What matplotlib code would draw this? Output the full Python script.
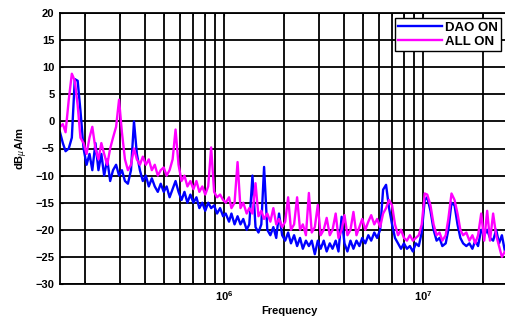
import matplotlib
matplotlib.use("Agg")
import matplotlib.pyplot as plt
from matplotlib.ticker import LogLocator, NullFormatter, FixedLocator

# frequency points (MHz)
freq_mhz = [
    0.150, 0.155, 0.160, 0.166, 0.172, 0.178, 0.184, 0.190, 0.197, 0.204,
    0.211, 0.218, 0.226, 0.234, 0.242, 0.250, 0.259, 0.268, 0.277, 0.287,
    0.297, 0.307, 0.318, 0.329, 0.341, 0.353, 0.365, 0.378, 0.391, 0.405,
    0.419, 0.434, 0.449, 0.465, 0.481, 0.498, 0.515, 0.533, 0.552, 0.571,
    0.591, 0.612, 0.633, 0.655, 0.678, 0.702, 0.727, 0.752, 0.778, 0.805,
    0.833, 0.862, 0.892, 0.923, 0.956, 0.990,
    1.02, 1.06, 1.09, 1.13, 1.17, 1.21, 1.25, 1.30, 1.34, 1.39,
    1.44, 1.49, 1.54, 1.59, 1.65, 1.71, 1.77, 1.83, 1.89, 1.96,
    2.03, 2.10, 2.17, 2.25, 2.33, 2.41, 2.49, 2.58, 2.67, 2.76,
    2.86, 2.96, 3.06, 3.17, 3.28, 3.40, 3.51, 3.64, 3.76, 3.90,
    4.03, 4.17, 4.32, 4.47, 4.63, 4.79, 4.95, 5.13, 5.31, 5.49,
    5.69, 5.88, 6.09, 6.30, 6.52, 6.75, 6.99, 7.23, 7.49, 7.75,
    8.02, 8.30, 8.59, 8.89, 9.20, 9.52, 9.85,
    10.2, 10.5, 10.9, 11.3, 11.7, 12.1, 12.5, 13.0, 13.4, 13.9,
    14.4, 14.9, 15.4, 15.9, 16.5, 17.1, 17.7, 18.3, 18.9, 19.6,
    20.3, 21.0, 21.7, 22.5, 23.3, 24.1, 24.9, 25.8, 26.7,
]

# DAO ON (blue)
dao_on = [
    -2, -4, -5.5, -5, -3, 7.8, 7.5, 2, -5, -8,
    -6, -9, -4, -9, -6, -10, -7, -11, -9, -8,
    -10, -9, -11, -11.5, -9, 0, -6, -9, -11, -10,
    -12, -10.5, -12, -13, -11.5, -13, -12, -14, -12.5, -11,
    -13, -14.5, -13, -15, -13.5, -15, -14, -16, -15, -16.5,
    -15, -16, -15.5, -17, -16, -17.5,
    -17, -18.5, -17, -19, -17.5, -19, -18, -20, -19, -10,
    -19.5, -20.5, -19, -8.4, -20, -21, -19.5, -21.5, -17, -21,
    -22, -20.5, -22.5, -21, -23, -21.5, -23.5, -22, -23, -22,
    -24.5, -22, -23.5, -22, -24, -22.5, -23.5, -22, -24, -17.6,
    -22.5, -24, -22, -23.5, -22, -23, -21.5, -22.5, -21, -22,
    -20.5, -21.5, -20, -12.6, -11.7, -16, -19, -21.5, -22.5, -23.5,
    -22.5, -23.5, -23, -24, -22.5, -23, -20.5,
    -14.5, -14, -16.5, -20, -22, -21.5, -23, -22.5, -20, -15,
    -15.5, -19, -21.5, -22.5, -23, -22.5, -23.5, -22, -23, -20,
    -21, -20, -21.5, -22, -20, -22.5, -21, -24, -25,
]

# ALL ON (magenta)
all_on = [
    -1, -0.5, -2, 4, 8.8, 7.5, 3, -3, -4, -6,
    -3, -1, -5, -7, -4, -6, -8, -5, -3, -1,
    4, -2, -7, -9, -8, -5, -7, -8, -6.5, -8,
    -7, -9, -8, -10, -9, -8.5, -10, -9, -7, -1.5,
    -8, -11, -10, -12, -11, -12.5, -11, -13, -12, -13.5,
    -12, -4.8, -13, -14, -13.5, -14.5,
    -15, -14, -16, -15, -7.5, -16, -15, -17, -16, -17,
    -11.4, -17.5, -16.5, -18, -17, -18.5, -16, -19, -18, -19.5,
    -18.5, -14, -20, -19, -14, -20, -19, -21, -13.2, -20.5,
    -19.5, -15.4, -21, -20, -17.8, -21, -20, -17, -21.5, -20,
    -17.3, -21, -20, -16.7, -21, -19.5, -18, -20, -18.5, -17.3,
    -19, -18, -19.5, -17, -16, -14.5, -15.5, -19, -21, -20,
    -21.5, -22, -21, -22, -21.5, -21, -19,
    -13.3, -13.5, -15.5, -19, -21, -20.5, -22, -21, -18, -13.3,
    -14.5, -17, -20, -21, -20.5, -22, -21, -22.5, -21, -17,
    -22, -16.5, -22, -17, -21, -23, -25, -24, -25,
]

legend_labels = ["DAO ON", "ALL ON"]

plt.rcParams['font.family'] = ['Liberation Sans', 'DejaVu Sans']

fig = plt.figure(figsize=(5.06, 3.21), dpi=100)
ax = fig.add_axes([60 / 506, 37 / 321, 458 / 506, 271 / 321])

freq_hz = [f * 1e6 for f in freq_mhz]
ax.plot(freq_hz, dao_on, color='#0000ff', lw=1.7, label=legend_labels[0])
ax.plot(freq_hz, all_on, color='#ff00ff', lw=1.7, label=legend_labels[1])

ax.set_xscale('log')
ax.set_xlim(1.5e5, 3e7)
ax.set_ylim(-30, 20)
ax.yaxis.set_major_locator(FixedLocator(range(-30, 21, 5)))
ax.xaxis.set_major_locator(LogLocator(base=10))
ax.xaxis.set_minor_locator(LogLocator(base=10, subs=range(2, 10)))
ax.xaxis.set_minor_formatter(NullFormatter())

ax.grid(True, which='both', color='black', lw=1.3)
ax.set_axisbelow(True)
ax.tick_params(which='both', direction='in', length=2, top=True, right=False,
               labelsize=8, pad=4)
for lab in ax.get_yticklabels() + ax.get_xticklabels():
    lab.set_fontweight('bold')
for sp in ax.spines.values():
    sp.set_linewidth(1.3)

ax.set_xlabel('Frequency', fontsize=8, fontweight='bold', labelpad=2)
ax.set_ylabel(r'dB$_{\mu}$A/m', fontsize=8, fontweight='bold', labelpad=4)

leg = ax.legend(loc='upper left', bbox_to_anchor=(395 / 506, 1 - 18 / 321),
                bbox_transform=fig.transFigure, borderaxespad=0,
                fancybox=False, framealpha=1,
                edgecolor='black', handlelength=3.3, handletextpad=0.25,
                borderpad=0.25, labelspacing=0.15,
                prop={'size': 9.5, 'weight': 'bold'})
leg.get_frame().set_linewidth(1.0)

fig.savefig('out.png', dpi=100)
